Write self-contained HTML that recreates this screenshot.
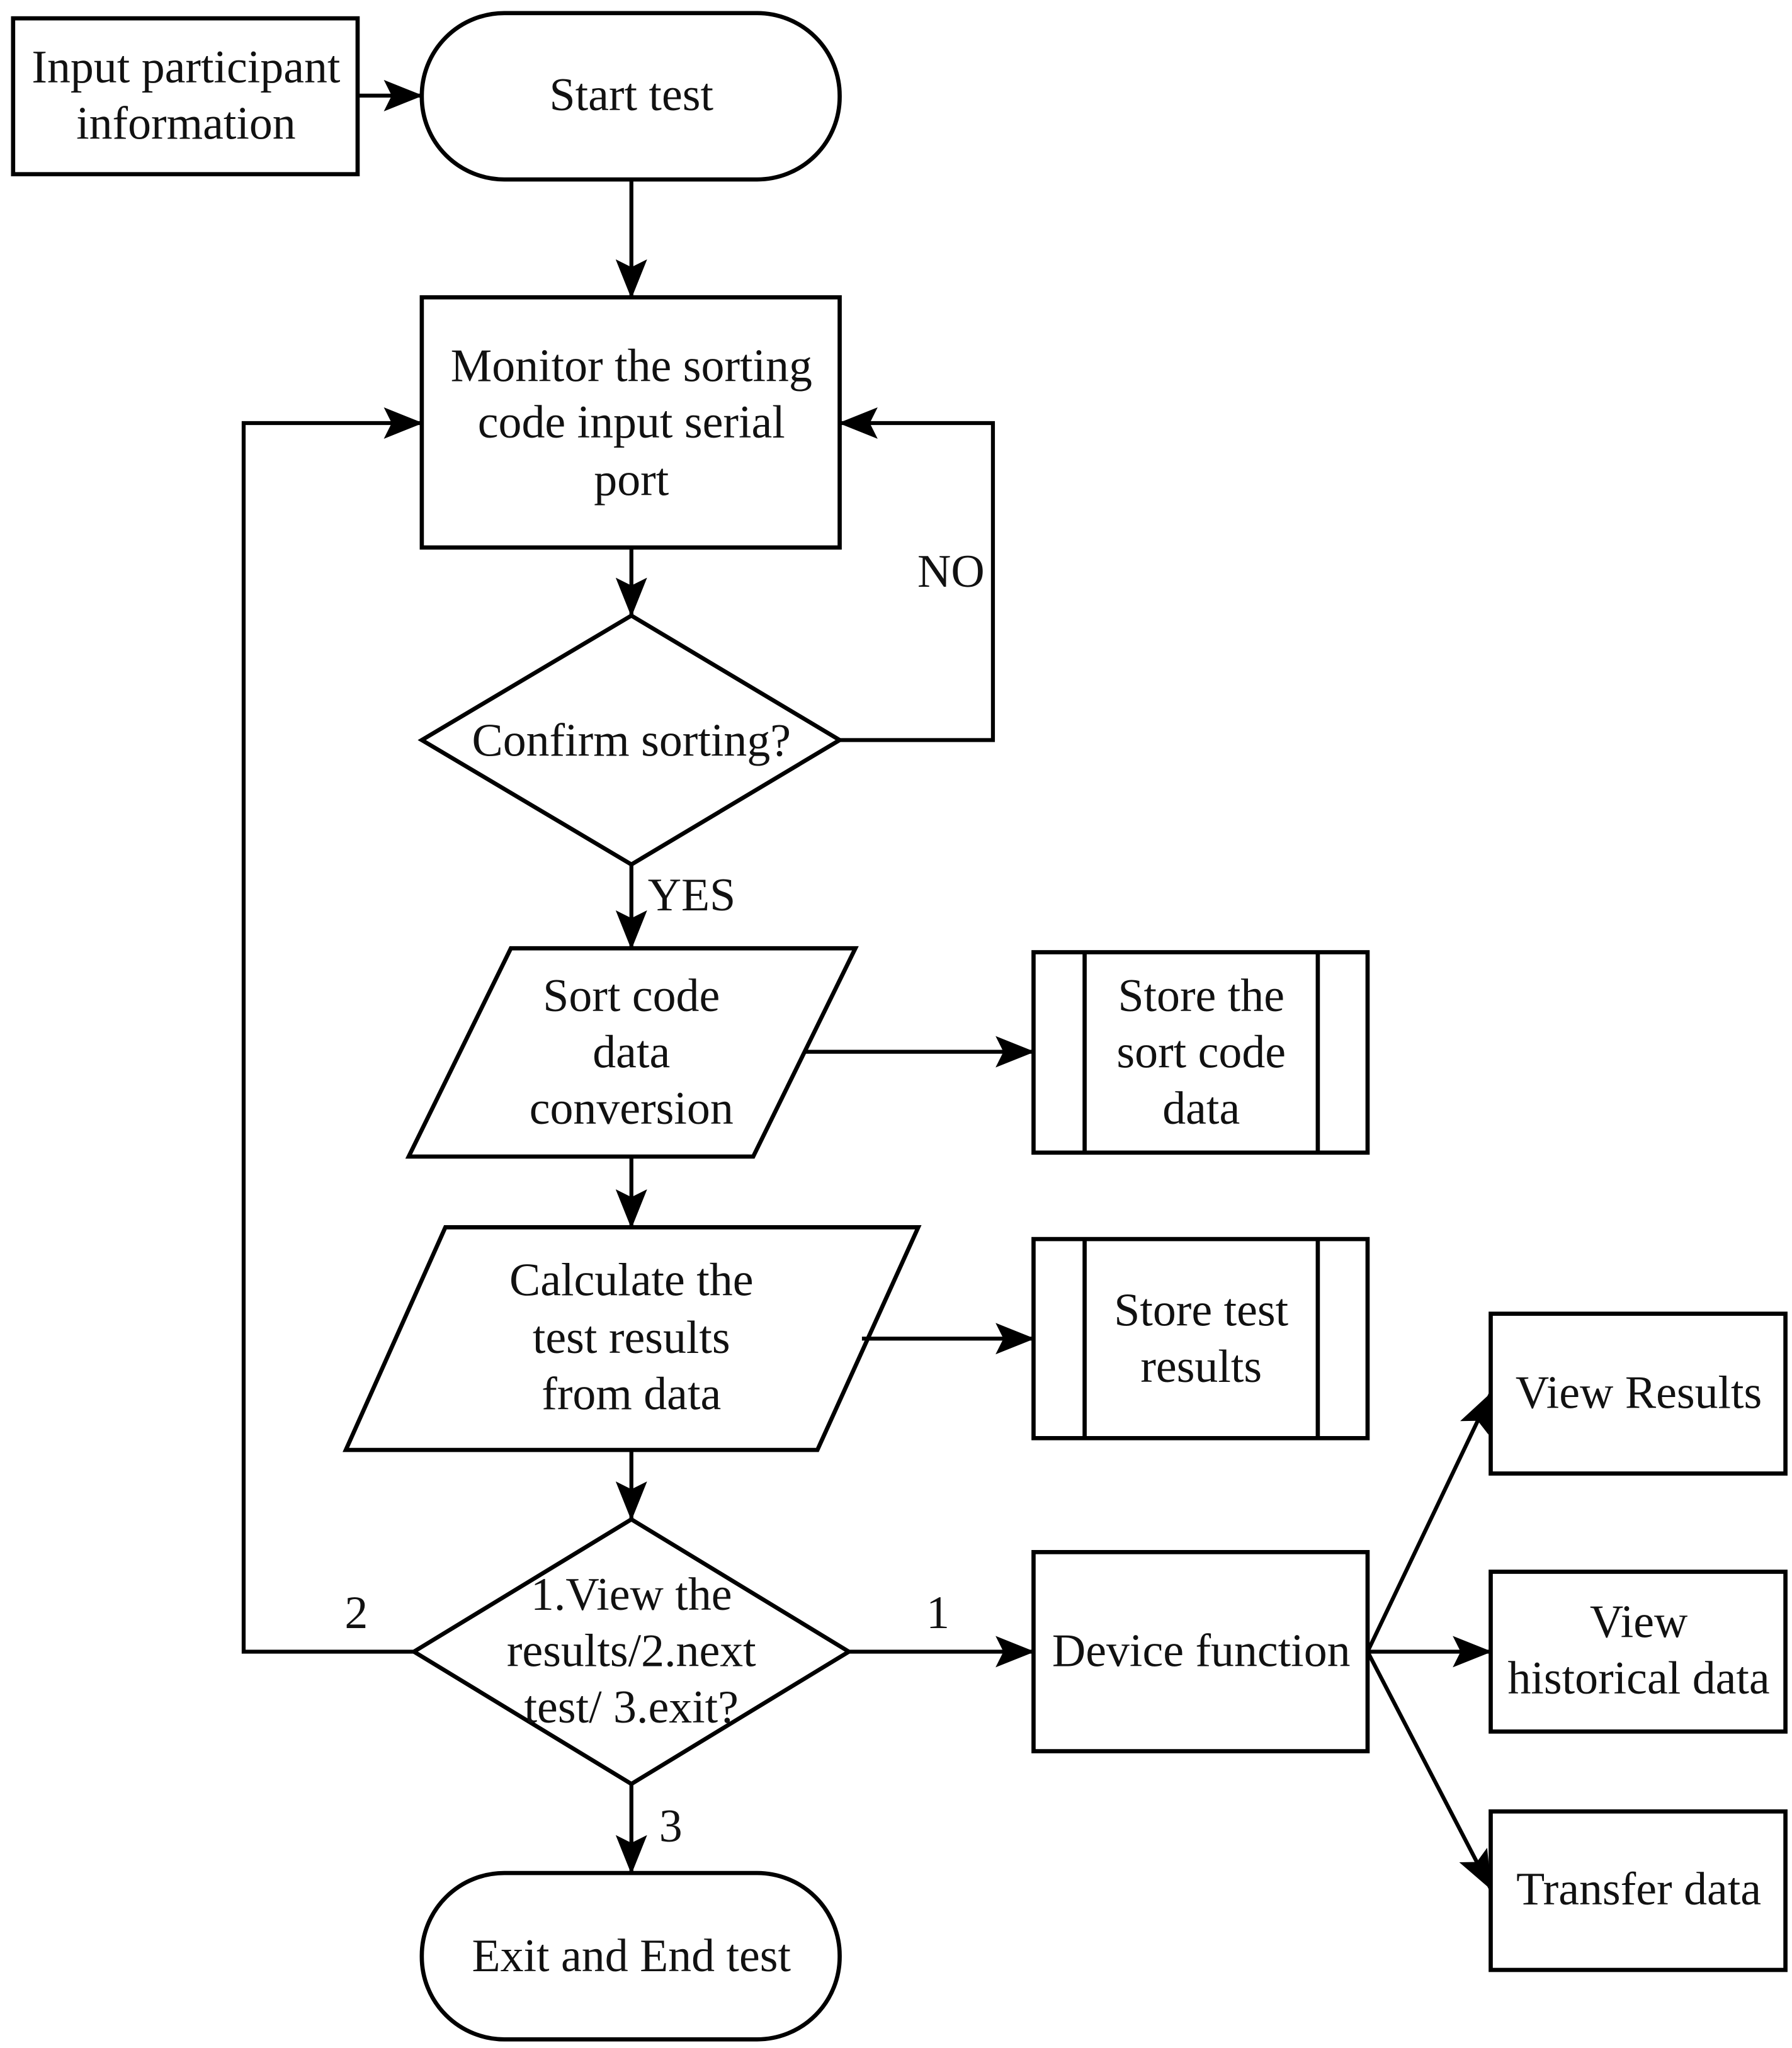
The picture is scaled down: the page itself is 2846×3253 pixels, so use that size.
<!DOCTYPE html>
<html><head><meta charset="utf-8"><style>
html,body{margin:0;padding:0;background:#fff;}
svg{display:block;}
text{font-family:"Liberation Serif",serif;font-size:35.5px;fill:#111;text-anchor:middle;}
</style></head><body>
<svg width="2846" height="3253" viewBox="0 0 1368 1563.6" preserveAspectRatio="none" xmlns="http://www.w3.org/2000/svg">
<defs><marker id="a" markerWidth="30" markerHeight="24" refX="29" refY="12" orient="auto" markerUnits="userSpaceOnUse"><path d="M0,0 L30,12 L0,24 L6,12 Z" fill="#000"/></marker></defs>
<g fill="none" stroke="#000" stroke-width="3.2">
<rect x="10" y="14" width="263" height="119"/>
<rect x="322" y="10" width="319" height="127" rx="63"/>
<rect x="322" y="227" width="319" height="191"/>
<polygon points="482,470 641,565 482,660 322,565"/>
<polygon points="390,724 653,724 575,883 312,883"/>
<rect x="789" y="727" width="255" height="153"/><line x1="828" y1="727" x2="828" y2="880"/><line x1="1006" y1="727" x2="1006" y2="880"/>
<polygon points="340,937 701,937 624,1107 264,1107"/>
<rect x="789" y="946" width="255" height="152"/><line x1="828" y1="946" x2="828" y2="1098"/><line x1="1006" y1="946" x2="1006" y2="1098"/>
<polygon points="482,1160 648,1261 482,1362 316,1261"/>
<rect x="789" y="1185" width="255" height="152"/>
<rect x="322" y="1430" width="319" height="127" rx="63"/>
<rect x="1138" y="1003" width="225" height="122"/>
<rect x="1138" y="1200" width="225" height="122"/>
<rect x="1138" y="1383" width="225" height="121"/>
</g>
<g fill="none" stroke="#000" stroke-width="3" marker-end="url(#a)">
<line x1="273" y1="73" x2="322" y2="73"/>
<line x1="482" y1="137" x2="482" y2="227"/>
<line x1="482" y1="418" x2="482" y2="470"/>
<polyline points="641,565 758,565 758,323 641,323"/>
<line x1="482" y1="660" x2="482" y2="724"/>
<line x1="614" y1="803" x2="789" y2="803"/>
<line x1="482" y1="883" x2="482" y2="937"/>
<line x1="658" y1="1022" x2="789" y2="1022"/>
<line x1="482" y1="1107" x2="482" y2="1160"/>
<polyline points="316,1261 186,1261 186,323 322,323"/>
<line x1="648" y1="1261" x2="789" y2="1261"/>
<line x1="482" y1="1362" x2="482" y2="1430"/>
<line x1="1044" y1="1261" x2="1138" y2="1064"/>
<line x1="1044" y1="1261" x2="1138" y2="1261"/>
<line x1="1044" y1="1261" x2="1138" y2="1442"/>
</g>
<text x="142" y="63">Input participant</text><text x="142" y="106">information</text>
<text x="482" y="84">Start test</text>
<text x="482" y="291">Monitor the sorting</text><text x="482" y="334">code input serial</text><text x="482" y="378">port</text>
<text x="482" y="577">Confirm sorting?</text>
<text x="726" y="448">NO</text><text x="528" y="695">YES</text>
<text x="482" y="772">Sort code</text><text x="482" y="815">data</text><text x="482" y="858">conversion</text>
<text x="917" y="772">Store the</text><text x="917" y="815">sort code</text><text x="917" y="858">data</text>
<text x="482" y="989">Calculate the</text><text x="482" y="1033">test results</text><text x="482" y="1076">from data</text>
<text x="917" y="1012">Store test</text><text x="917" y="1055">results</text>
<text x="482" y="1229">1.View the</text><text x="482" y="1272">results/2.next</text><text x="482" y="1315">test/ 3.exit?</text>
<text x="272" y="1243">2</text><text x="716" y="1243">1</text><text x="512" y="1406">3</text>
<text x="917" y="1272">Device function</text>
<text x="482" y="1505">Exit and End test</text>
<text x="1251" y="1075">View Results</text>
<text x="1251" y="1250">View</text><text x="1251" y="1293">historical data</text>
<text x="1251" y="1454">Transfer data</text>
</svg>
</body></html>
